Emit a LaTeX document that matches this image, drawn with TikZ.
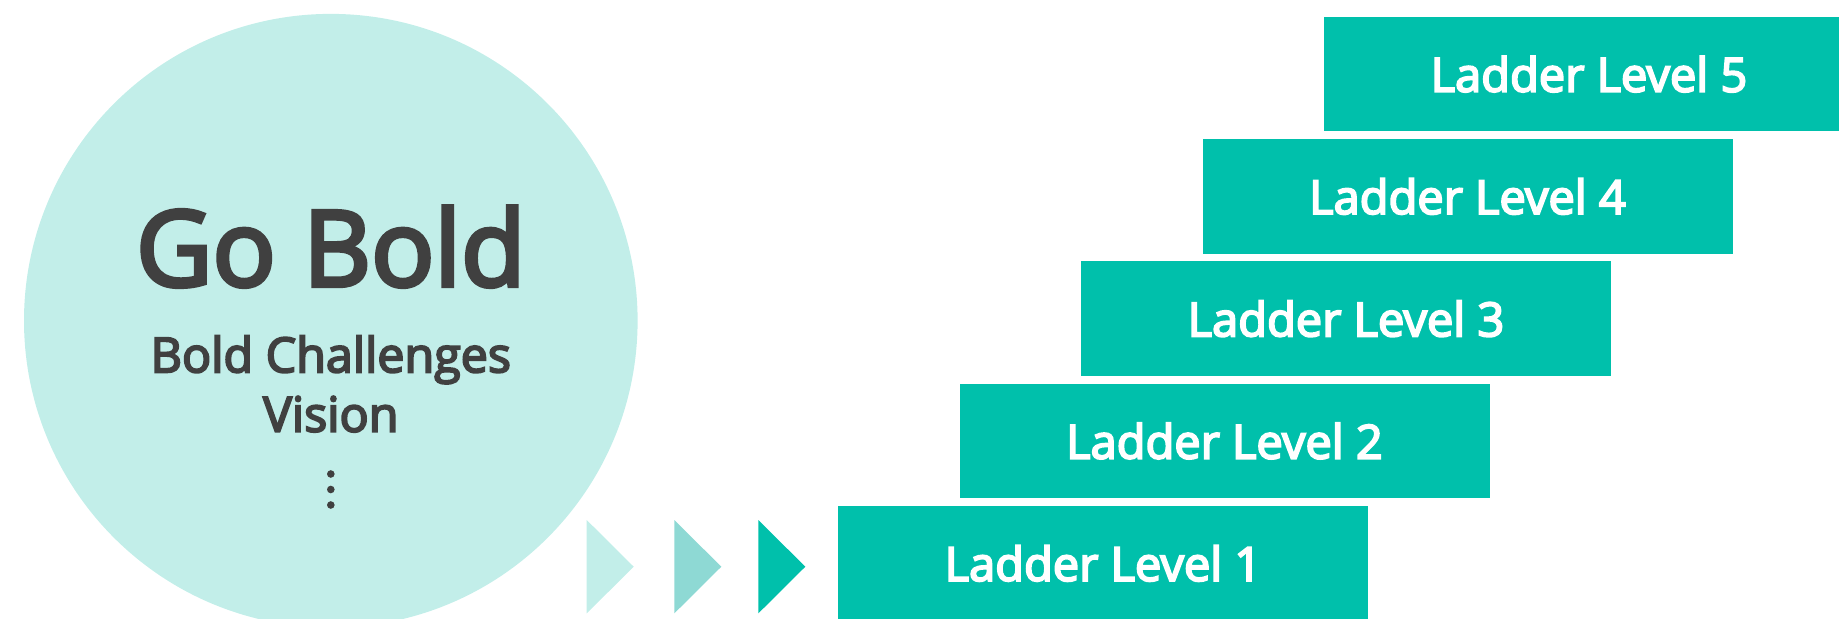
\documentclass[tikz,border=0pt]{standalone}
\usepackage{fontspec}
\setmainfont{Open Sans}
\newfontfamily\semibold{Open Sans}[FakeBold=4]
\usepackage{xcolor}
\usetikzlibrary{positioning}

\definecolor{paleteal}{HTML}{C2EEE9}
\definecolor{midteal}{HTML}{8ED9D4}
\definecolor{ladderteal}{HTML}{00C0AB}
\definecolor{inkgray}{HTML}{404040}

\tikzset{
 ladder/.style={rectangle,fill=ladderteal,text=white,inner sep=0pt,
  minimum width=265pt,minimum height=57.25pt,
  font=\semibold\fontsize{23.5}{27}\selectfont},
 circtext/.style={text=inkgray,inner sep=0pt,anchor=base}
}

\begin{document}
\begin{tikzpicture}[x=0.5pt,y=-0.5pt]
 \useasboundingbox (0,0) rectangle (1839,619);
 \clip (0,0) rectangle (1839,619);

 % vision circle
 \fill[paleteal] (330.8,320.7) circle (306.8);
 \node[circtext,font=\semibold\fontsize{52.5}{60}\selectfont] (gobold) at (330.8,286) {Go Bold};
 \node[circtext,font=\semibold\fontsize{24.2}{28}\selectfont] (challenges) at (330.8,372.3) {Bold Challenges};
 \node[circtext,font=\semibold\fontsize{24.2}{28}\selectfont] (vision) at (330.8,431.7) {Vision};
 \foreach \y in {474,489.5,505}
  \fill[inkgray] (330.8,\y) circle (3.8);

 % chevrons
 \foreach \x/\c in {586.7/paleteal,674.3/midteal,758.3/ladderteal}
  \fill[\c] (\x,520) -- ++(47,46.7) -- ++(-47,46.7) -- cycle;

 % ladder steps
 \node[ladder] (lv1) at (1103,563.3) {Ladder Level 1};
 \foreach \i [count=\j from 2] in {1,...,4}
  \node[ladder,above=3.5pt of lv\i,xshift=60.75pt] (lv\j) {Ladder Level \j};
\end{tikzpicture}
\end{document}
